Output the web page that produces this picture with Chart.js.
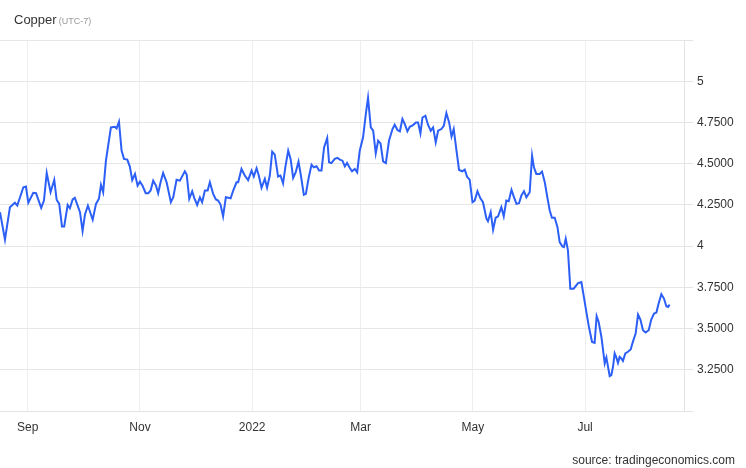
<!DOCTYPE html>
<html>
<head>
<meta charset="utf-8">
<script src="https://cdn.jsdelivr.net/npm/chart.js@4.4.1/dist/chart.umd.min.js"></script>
<style>
  body { margin: 0; background: #fff; }
</style>
</head>
<body>
<canvas id="chart" width="746" height="468"></canvas>
<script>
// days since 1 Sep 2021 for each sample
const days = [
  -15.1, -12.4, -9.7, -7.0, -5.7, -2.4, -1.0, 0.3, 3.0, 4.5, 7.3, 8.8, 10.3, 12.4, 14.4, 15.7, 17.1, 18.6, 19.8, 21.7,
  22.9, 24.4, 25.6, 28.4, 29.8, 31.1, 32.7, 35.3, 37.1, 38.7, 39.8, 41.0, 42.5, 45.2, 47.4, 48.3, 49.6, 51.0, 52.3, 54.1,
  55.5, 56.8, 58.3, 59.7, 61.0, 62.4, 64.1, 65.5, 66.8, 68.2, 69.7, 70.9, 72.2, 73.6, 75.5, 77.8, 79.1, 80.9, 82.7, 85.4,
  86.4, 87.8, 89.4, 90.5, 92.1, 93.6, 94.8, 96.3, 97.8, 99.0, 100.8, 102.3, 103.5, 104.8, 106.2, 107.7, 110.3, 111.7, 113.5, 114.4,
  116.2, 118.0, 119.8, 121.7, 122.9, 124.4, 125.6, 127.1, 128.9, 130.1, 131.6, 132.9, 134.3, 136.1, 137.4, 138.8, 140.1, 141.6, 142.9, 144.3,
  145.7, 147.2, 148.5, 150.1, 151.2, 152.8, 154.3, 155.5, 157.0, 158.4, 159.7, 161.1, 162.8, 163.8, 165.1, 166.9, 168.4, 169.7, 171.1, 172.4,
  173.6, 175.1, 176.3, 177.8, 179.1, 180.5, 182.3, 183.8, 185.0, 186.5, 187.8, 189.2, 190.5, 191.8, 193.2, 194.7, 196.4, 198.3, 199.5, 201.0,
  202.3, 203.7, 205.0, 206.4, 207.7, 209.5, 211.0, 212.2, 213.5, 214.6, 216.2, 217.6, 219.1, 220.4, 221.8, 223.1, 224.9, 226.2, 227.6, 229.1,
  230.4, 231.6, 233.1, 234.5, 236.3, 237.6, 238.8, 240.3, 241.8, 243.0, 244.5, 246.1, 247.5, 249.4, 250.2, 251.7, 253.0, 254.4, 255.7, 257.5,
  258.8, 260.2, 261.5, 263.0, 264.4, 265.7, 267.1, 268.4, 269.8, 271.1, 272.9, 274.2, 275.2, 276.5, 278.3, 279.6, 281.1, 282.5, 283.8, 285.0,
  286.5, 288.0, 289.2, 290.7, 291.5, 292.5, 293.7, 295.0, 296.8, 299.2, 301.0, 301.9, 303.7, 305.1, 306.8, 308.2, 309.3, 310.4, 311.9, 313.7,
  314.6, 315.5, 316.4, 317.3, 318.2, 319.1, 320.0, 320.9, 321.8, 322.7, 323.6, 324.9, 326.3, 327.8, 329.0, 330.5, 331.8, 333.1, 334.5, 335.9,
  337.6, 339.0, 340.5, 341.8, 343.0, 344.5, 345.9, 347.2, 348.1, 349.0
];

// copper price, USD/lb
const prices = [
  4.206, 4.039, 4.236, 4.263, 4.246, 4.357, 4.361, 4.263, 4.323, 4.321, 4.232, 4.276, 4.444, 4.327, 4.402, 4.281, 4.256, 4.119, 4.119, 4.250,
  4.230, 4.283, 4.293, 4.206, 4.091, 4.192, 4.246, 4.160, 4.256, 4.287, 4.371, 4.327, 4.518, 4.720, 4.724, 4.714, 4.754, 4.579, 4.529, 4.525,
  4.482, 4.400, 4.438, 4.367, 4.391, 4.367, 4.321, 4.321, 4.337, 4.397, 4.367, 4.321, 4.387, 4.444, 4.387, 4.266, 4.296, 4.402, 4.397, 4.454,
  4.434, 4.287, 4.333, 4.293, 4.250, 4.296, 4.266, 4.337, 4.337, 4.387, 4.317, 4.283, 4.276, 4.252, 4.180, 4.296, 4.290, 4.337, 4.387, 4.387,
  4.468, 4.428, 4.400, 4.458, 4.422, 4.472, 4.428, 4.354, 4.408, 4.354, 4.428, 4.573, 4.555, 4.422, 4.428, 4.381, 4.482, 4.579, 4.529, 4.414,
  4.448, 4.512, 4.428, 4.311, 4.317, 4.418, 4.494, 4.478, 4.484, 4.458, 4.458, 4.599, 4.656, 4.508, 4.504, 4.529, 4.535, 4.525, 4.518, 4.484,
  4.504, 4.474, 4.454, 4.468, 4.448, 4.579, 4.660, 4.801, 4.900, 4.720, 4.700, 4.563, 4.639, 4.623, 4.514, 4.504, 4.639, 4.710, 4.736, 4.704,
  4.696, 4.771, 4.740, 4.696, 4.724, 4.734, 4.750, 4.750, 4.684, 4.780, 4.791, 4.736, 4.700, 4.720, 4.629, 4.700, 4.710, 4.730, 4.807, 4.750,
  4.664, 4.710, 4.579, 4.462, 4.454, 4.464, 4.422, 4.402, 4.266, 4.276, 4.333, 4.290, 4.266, 4.166, 4.151, 4.206, 4.099, 4.172, 4.180, 4.236,
  4.180, 4.276, 4.272, 4.341, 4.296, 4.256, 4.260, 4.307, 4.333, 4.296, 4.327, 4.549, 4.478, 4.438, 4.438, 4.452, 4.387, 4.296, 4.216, 4.172,
  4.172, 4.115, 4.024, 3.998, 3.994, 4.045, 3.974, 3.742, 3.742, 3.776, 3.782, 3.722, 3.601, 3.510, 3.419, 3.413, 3.575, 3.540, 3.449, 3.289,
  3.325, 3.268, 3.212, 3.218, 3.268, 3.349, 3.325, 3.292, 3.328, 3.319, 3.304, 3.349, 3.359, 3.373, 3.419, 3.470, 3.585, 3.555, 3.490, 3.476,
  3.490, 3.555, 3.591, 3.597, 3.652, 3.708, 3.682, 3.635, 3.631, 3.645
];

// x axis month marks (days since 1 Sep 2021)
const monthDays = [0, 61, 122, 181, 242, 303];
const monthLabels = ["Sep", "Nov", "2022", "Mar", "May", "Jul"];

const FONT = "'Liberation Sans', Arial, sans-serif";

const textPlugin = {
  id: "texts",
  afterDraw(chart) {
    const ctx = chart.ctx;
    ctx.save();
    ctx.textBaseline = "alphabetic";
    ctx.textAlign = "left";
    ctx.fillStyle = "#333";
    ctx.font = "13px " + FONT;
    ctx.fillText("Copper", 14, 24);
    const w = ctx.measureText("Copper").width;
    ctx.fillStyle = "#999";
    ctx.font = "9px " + FONT;
    ctx.fillText("(UTC-7)", 14 + w + 2, 24);
    ctx.fillStyle = "#333";
    ctx.font = "12px " + FONT;
    ctx.textAlign = "right";
    ctx.fillText("source: tradingeconomics.com", 735, 464);
    ctx.restore();
  }
};

const points = days.map((d, i) => ({ x: d, y: prices[i] }));

new Chart(document.getElementById("chart"), {
  type: "line",
  data: {
    datasets: [{
      data: points,
      borderColor: "#2c5ff6",
      borderWidth: 2,
      pointRadius: 0,
      tension: 0
    }]
  },
  options: {
    responsive: false,
    animation: false,
    layout: { padding: { top: 40, left: 0, right: 0, bottom: 0 } },
    plugins: { legend: { display: false }, tooltip: { enabled: false } },
    scales: {
      x: {
        type: "linear",
        min: -15.1,
        max: 356.8,
        afterBuildTicks: s => { s.ticks = monthDays.map(v => ({ value: v })); },
        afterFit: s => { s.height = 57; },
        grid: { color: "#eceef1", drawTicks: false },
        border: { color: "#e3e3e3" },
        ticks: {
          autoSkip: false,
          maxRotation: 0,
          padding: 9,
          color: "#333",
          font: { size: 12, family: FONT },
          callback: (v, i) => monthLabels[i]
        }
      },
      y: {
        position: "right",
        min: 3,
        max: 5.25,
        afterFit: s => { s.width = 62; },
        grid: { color: "#e6e6e6", tickLength: 9, tickColor: "#e3e3e3" },
        border: { color: "#e3e3e3" },
        ticks: {
          stepSize: 0.25,
          padding: 4,
          color: "#333",
          font: { size: 12, family: FONT },
          callback: v => {
            if (Math.abs(v - 3) < 1e-6 || Math.abs(v - 5.25) < 1e-6) return "";
            return Number.isInteger(v) ? String(v) : v.toFixed(4);
          }
        }
      }
    }
  },
  plugins: [textPlugin]
});
</script>
</body>
</html>
